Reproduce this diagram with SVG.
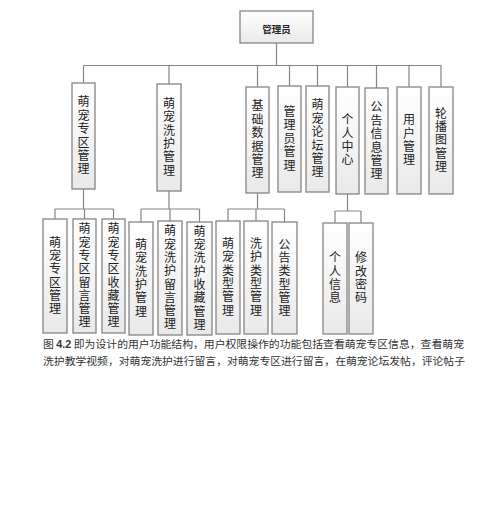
<svg xmlns="http://www.w3.org/2000/svg" width="500" height="521" viewBox="0 0 500 521">
<defs>
<linearGradient id="g" x1="0" y1="0" x2="0" y2="1">
<stop offset="0" stop-color="#ffffff"/>
<stop offset="1" stop-color="#e9e9e9"/>
</linearGradient>
<style>
.b{fill:url(#g);stroke:#858585;stroke-width:1.3}
.t{font-family:"Noto Sans CJK SC","Noto Sans",sans-serif;font-size:12px;fill:#222;text-anchor:middle;writing-mode:vertical-rl;glyph-orientation-vertical:0;letter-spacing:1.4px}
.u{letter-spacing:1.3px}
.c{fill:none;stroke:#858585;stroke-width:1.2}
.cap{font-family:"Noto Sans CJK SC","Liberation Serif",serif;font-size:10.5px;fill:#333}
</style>
</defs>
<rect width="500" height="521" fill="#ffffff"/>
<g id="connectors">
<path class="c" d="M276.5 43V65.5M83.5 65.5H441M83.5 65.5V83M169 65.5V84M257.5 65.5V87M289.5 65.5V86M317.5 65.5V86M347.5 65.5V87M376.5 65.5V88M409 65.5V87M441 65.5V87"/>
<path class="c" d="M83.5 189V209M55 209H113.5M55 209V219M84.5 209V219M113.5 209V219"/>
<path class="c" d="M169 191V209M141 209H199.5M141 209V222M170 209V221M199.5 209V222"/>
<path class="c" d="M257.5 193V209M228 209H284.5M228 209V221M256 209V221M284.5 209V222"/>
<path class="c" d="M347.5 194V211M335 211H361M335 211V223M361 211V223"/>
</g>
<g id="root"><rect class="b" x="240" y="11" width="73" height="32"/><text x="276.5" y="33" style="font-family:'Noto Sans CJK SC',sans-serif;font-size:9.5px;font-weight:bold;fill:#222;text-anchor:middle">管理员</text></g>
<g id="n1"><rect class="b" x="72" y="83" width="23" height="106"/><text class="t" x="83.5" y="136">萌宠专区管理</text></g>
<g id="n2"><rect class="b" x="157" y="84" width="24" height="107"/><text class="t" x="169" y="137.5">萌宠洗护管理</text></g>
<g id="n3"><rect class="b" x="246" y="87" width="23" height="106"/><text class="t" x="257.5" y="140">基础数据管理</text></g>
<g id="n4"><rect class="b" x="278" y="86" width="23" height="106"/><text class="t" x="289.5" y="139">管理员管理</text></g>
<g id="n5"><rect class="b" x="306" y="86" width="23" height="106"/><text class="t" x="317.5" y="139">萌宠论坛管理</text></g>
<g id="n6"><rect class="b" x="336" y="87" width="23" height="107"/><text class="t" x="347.5" y="140.5">个人中心</text></g>
<g id="n7"><rect class="b" x="365" y="88" width="23" height="106"/><text class="t" x="376.5" y="141">公告信息管理</text></g>
<g id="n8"><rect class="b" x="397" y="87" width="24" height="107"/><text class="t" x="409" y="140.5">用户管理</text></g>
<g id="n9"><rect class="b" x="429" y="87" width="24" height="107"/><text class="t" x="441" y="140.5">轮播图管理</text></g>
<g id="a1"><rect class="b" x="43" y="219" width="24" height="114"/><text class="t u" x="55" y="276">萌宠专区管理</text></g>
<g id="a2"><rect class="b" x="73" y="219" width="23" height="114"/><text class="t u" x="84.5" y="276">萌宠专区留言管理</text></g>
<g id="a3"><rect class="b" x="102" y="219" width="23" height="114"/><text class="t u" x="113.5" y="276">萌宠专区收藏管理</text></g>
<g id="b1"><rect class="b" x="129" y="222" width="24" height="113"/><text class="t u" x="141" y="278.5">萌宠洗护管理</text></g>
<g id="b2"><rect class="b" x="158" y="221" width="24" height="114"/><text class="t u" x="170" y="278">萌宠洗护留言管理</text></g>
<g id="b3"><rect class="b" x="187" y="222" width="25" height="113"/><text class="t u" x="199.5" y="278.5">萌宠洗护收藏管理</text></g>
<g id="c1"><rect class="b" x="216" y="221" width="24" height="113"/><text class="t u" x="228" y="277.5">萌宠类型管理</text></g>
<g id="c2"><rect class="b" x="244" y="221" width="24" height="113"/><text class="t u" x="256" y="277.5">洗护类型管理</text></g>
<g id="c3"><rect class="b" x="272" y="222" width="25" height="112"/><text class="t u" x="284.5" y="278">公告类型管理</text></g>
<g id="d1"><rect class="b" x="323" y="223" width="24" height="111"/><text class="t u" x="335" y="278.5">个人信息</text></g>
<g id="d2"><rect class="b" x="349" y="223" width="24" height="111"/><text class="t u" x="361" y="278.5">修改密码</text></g>
<g id="caption">
<text class="cap" x="43" y="347.5" textLength="421" lengthAdjust="spacingAndGlyphs">图 <tspan font-weight="bold" font-family="Liberation Sans, sans-serif">4.2</tspan> 即为设计的用户功能结构，用户权限操作的功能包括查看萌宠专区信息，查看萌宠</text>
<text class="cap" x="43" y="364.5" textLength="422" lengthAdjust="spacingAndGlyphs">洗护教学视频，对萌宠洗护进行留言，对萌宠专区进行留言，在萌宠论坛发帖，评论帖子</text>
</g>
</svg>
